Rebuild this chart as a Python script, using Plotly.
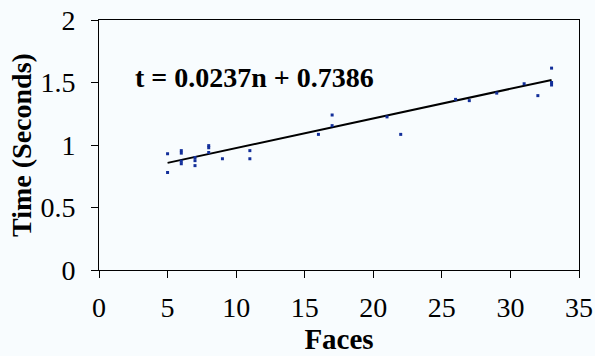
import plotly.graph_objects as go

# faces vs. time measurements
faces = [5, 5, 6, 6, 6, 6, 7, 7, 7, 8, 8, 8, 9, 11, 11,
         16, 17, 17, 21, 22, 26, 27, 29, 31, 32, 33, 33, 33]
times = [0.93, 0.78, 0.955, 0.935, 0.87, 0.85, 0.90, 0.875, 0.835, 0.995, 0.978, 0.94, 0.89, 0.955, 0.89,
         1.085, 1.24, 1.155, 1.225, 1.085, 1.365, 1.355, 1.415, 1.49, 1.395, 1.615, 1.50, 1.48]

# linear fit t = a*n + b
slope = 0.0237
intercept = 0.7386
fit_x = [5, 33]
fit_y = [slope * n + intercept for n in fit_x]

x_ticks = [0, 5, 10, 15, 20, 25, 30, 35]
y_ticks = [0, 0.5, 1, 1.5, 2]

BG = "#F8FCFE"
FONT = "Liberation Serif"

fig = go.Figure()
fig.add_trace(go.Scatter(
    x=fit_x, y=fit_y, mode="lines",
    line=dict(color="black", width=2), hoverinfo="skip",
))
fig.add_trace(go.Scatter(
    x=faces, y=times, mode="markers",
    marker=dict(symbol="square", size=3, color="#132F9A", line=dict(width=0)),
))
fig.add_annotation(
    x=11.36, y=1.54, xref="x", yref="y", showarrow=False,
    text="<b>t = 0.0237n + 0.7386</b>",
    font=dict(family=FONT, size=28, color="black"),
)

axis_common = dict(
    showgrid=False, zeroline=False, showline=True, linecolor="black", linewidth=1,
    mirror=True, ticks="outside", ticklen=7, tickcolor="black", tickwidth=1,
    tickfont=dict(family=FONT, size=28, color="black"),
)
fig.update_layout(
    width=595, height=356,
    margin=dict(l=99, r=16, t=20, b=86, autoexpand=False),
    paper_bgcolor=BG, plot_bgcolor=BG,
    showlegend=False,
    xaxis=dict(range=[0, 35], tickvals=x_ticks, ticklabelstandoff=5,
               title=dict(text="<b>Faces</b>", standoff=0,
                          font=dict(family=FONT, size=29, color="black")),
               **axis_common),
    yaxis=dict(range=[0, 2], tickvals=y_ticks, ticklabelstandoff=10,
               title=dict(text="<b>Time (Seconds)</b>", standoff=0,
                          font=dict(family=FONT, size=28, color="black")),
               **axis_common),
)

fig.write_html("out.html", config={"displayModeBar": False},
               post_script="document.body.style.margin='0';")
